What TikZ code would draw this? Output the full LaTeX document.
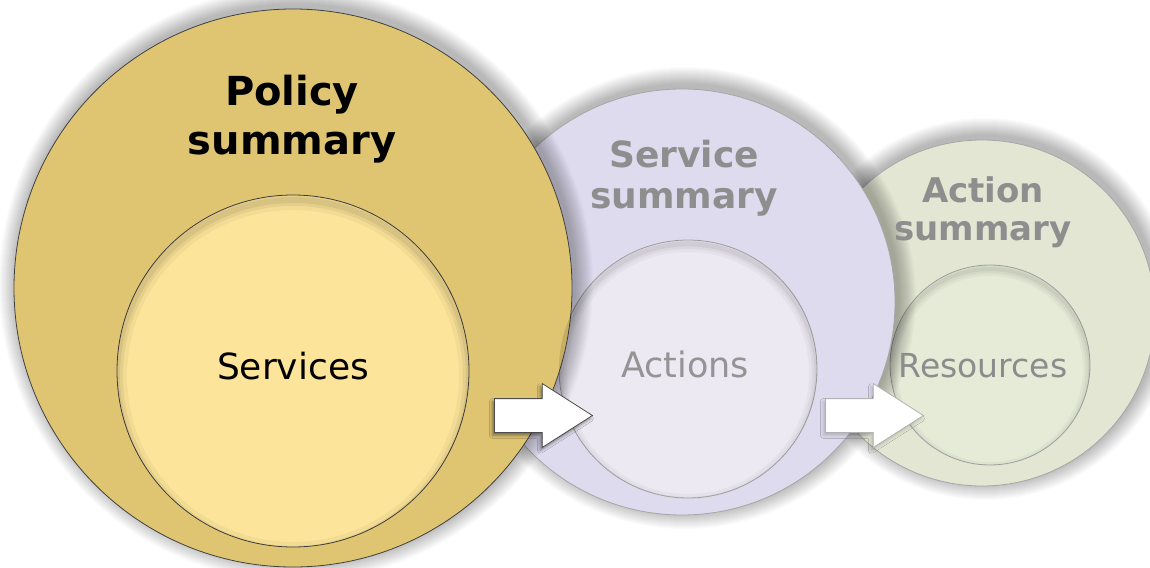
\documentclass[tikz,border=0pt]{standalone}
\usepackage{fontspec}
\setmainfont{DejaVu Sans}
\usetikzlibrary{shapes.arrows,shadows.blur}
\definecolor{policyfill}{HTML}{DFC572}
\definecolor{servicesfill}{HTML}{FCE49A}
\definecolor{svcsumfill}{HTML}{DFDBEE}
\definecolor{actionsfill}{HTML}{ECE9F3}
\definecolor{actsumfill}{HTML}{E3E6D3}
\definecolor{resfill}{HTML}{E6EBD8}
\definecolor{fadedtext}{HTML}{8E8E8E}
\begin{document}
\begin{tikzpicture}[x=1pt,y=-1pt,
  outer/.style={circle,inner sep=0pt,line width=0.8pt},
  inner/.style={circle,inner sep=0pt,line width=0.8pt},
  glow/.style={black,opacity=0.017},
  titletext/.style={align=center,inner sep=0pt,font=\bfseries},
  blockarrow/.style={single arrow,fill=white,inner xsep=0pt,inner ysep=16.5pt,minimum height=98pt,single arrow head extend=15pt,single arrow tip angle=65,anchor=tail,line width=0.8pt}]
\useasboundingbox (0,0) rectangle (1150,567);
\fill[white] (0,0) rectangle (1150,567);
\coordinate (actsumc) at (982,313);
\coordinate (svcsumc) at (682,302);
\coordinate (policyc) at (293,288);
\foreach \r in {1,...,18} \fill[glow] ([xshift=3pt,yshift=4pt]actsumc) circle (173+\r);
\node[outer,draw=black!35,fill=actsumfill,minimum size=346pt] (actsum) at (actsumc) {};
\node[inner,draw=black!35,fill=resfill,minimum size=200pt] (res) at (990,365) {};
\foreach \r in {1,...,18} \fill[glow] ([xshift=3pt,yshift=4pt]svcsumc) circle (213+\r);
\node[outer,draw=black!35,fill=svcsumfill,minimum size=426pt] (svcsum) at (svcsumc) {};
\node[inner,draw=black!35,fill=actionsfill,minimum size=258pt] (actions) at (688,369) {};
\foreach \r in {1,...,18} \fill[glow] ([xshift=3pt,yshift=4pt]policyc) circle (279+\r);
\node[outer,draw=black!75,fill=policyfill,minimum size=558pt] (policy) at (policyc) {};
\node[inner,draw=black!75,fill=servicesfill,minimum size=352pt] (services) at (293,371) {};
\begin{scope}
\clip (services.center) circle (176);
\foreach \w/\o in {20/0.04,12/0.05,6/0.06} \draw[line width=\w pt,black,opacity=\o] ([yshift=-5pt]services.center) circle (176);
\end{scope}
\begin{scope}
\clip (actions.center) circle (129);
\foreach \w/\o in {16/0.03,10/0.04,5/0.05} \draw[line width=\w pt,black,opacity=\o] ([yshift=-4pt]actions.center) circle (129);
\end{scope}
\begin{scope}
\clip (res.center) circle (100);
\foreach \w/\o in {14/0.03,9/0.04,4/0.05} \draw[line width=\w pt,black,opacity=\o] ([yshift=-4pt]res.center) circle (100);
\end{scope}
\node[titletext,font={\fontsize{40}{49}\selectfont\bfseries}] (policylbl) at (292,119) {Policy\\summary};
\node[titletext,text=fadedtext,font={\fontsize{36}{41}\selectfont\bfseries}] (svcsumlbl) at (684,178) {Service\\summary};
\node[titletext,text=fadedtext,font={\fontsize{34}{38}\selectfont\bfseries}] (actsumlbl) at (983,212) {Action\\summary};
\node[inner sep=0pt,anchor=base,font=\fontsize{36}{42}\selectfont] (serviceslbl) at (293,379) {Services};
\node[inner sep=0pt,anchor=base,text=black!42,font=\fontsize{35}{42}\selectfont] (actionslbl) at (685,377) {Actions};
\node[inner sep=0pt,anchor=base,text=black!45,font=\fontsize{33}{40}\selectfont] (reslbl) at (983,377) {Resources};
\node[blockarrow,draw=black!70,blur shadow={shadow xshift=-2pt,shadow yshift=-3pt,shadow blur radius=3pt,shadow opacity=45}] (arrow1) at (494,415.5) {};
\node[blockarrow,draw=black!30,blur shadow={shadow xshift=-2pt,shadow yshift=-3pt,shadow blur radius=3pt,shadow opacity=20}] (arrow2) at (825,415.5) {};
\end{tikzpicture}
\end{document}
